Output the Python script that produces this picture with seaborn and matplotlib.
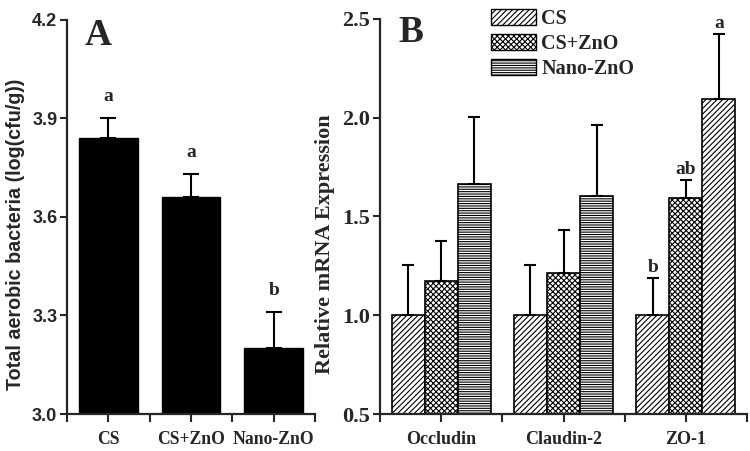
import pandas as pd
import numpy as np
import matplotlib
matplotlib.use("Agg")
import matplotlib.pyplot as plt
import matplotlib.patches as mpatches
from matplotlib.ticker import FixedLocator
import seaborn as sns

# Panel A data
groups = ["CS", "CS+ZnO", "Nano-ZnO"]
bacteria = [3.84, 3.66, 3.20]
bacteria_err = [0.06, 0.07, 0.11]
bacteria_sig = ["a", "a", "b"]

# Panel B data
genes = ["Occludin", "Claudin-2", "ZO-1"]
cs_expr = [1.00, 1.00, 1.00]
cs_zno_expr = [1.175, 1.215, 1.595]
nano_expr = [1.665, 1.605, 2.095]
cs_err = [0.255, 0.255, 0.19]
cs_zno_err = [0.20, 0.215, 0.09]
nano_err = [0.34, 0.36, 0.33]
zo1_sig = ["b", "ab", "a"]

sns.set_theme(style="ticks")
plt.rcParams["hatch.linewidth"] = 0.8
plt.rcParams["axes.linewidth"] = 1.6
serif = ["Liberation Serif", "DejaVu Serif"]
sans = ["Liberation Sans", "DejaVu Sans"]

fig = plt.figure(figsize=(7.5, 4.51), dpi=100)
axA = fig.add_axes([0.0893, 0.082, 0.3307, 0.874])
axB = fig.add_axes([0.5067, 0.082, 0.4893, 0.876])

# ---- Panel A
dfA = pd.DataFrame({"group": groups, "value": bacteria})
sns.barplot(data=dfA, x="group", y="value", color="black", width=0.71,
            edgecolor="black", errorbar=None, ax=axA, saturation=1)
axA.errorbar(range(3), bacteria, yerr=[[0, 0, 0], bacteria_err], fmt="none",
             ecolor="black", elinewidth=1.5, capsize=6, capthick=1.5)
for i, s in enumerate(bacteria_sig):
    axA.text(i, bacteria[i] + bacteria_err[i] + 0.04, s, ha="center", va="bottom",
             fontsize=14, fontweight="bold", family=serif)
axA.set_ylim(3.0, 4.2)
axA.set_xlim(-0.5, 2.5)
axA.set_yticks([3.0, 3.3, 3.6, 3.9, 4.2])
axA.set_yticklabels(["3.0", "3.3", "3.6", "3.9", "4.2"], fontsize=13,
                    fontweight="bold", family=sans)
axA.set_xticks(range(3))
axA.set_xticklabels(groups, fontsize=12.7, fontweight="bold", family=serif)
axA.xaxis.set_minor_locator(FixedLocator([-0.5, 0.5, 1.5, 2.5]))
axA.set_xlabel("")
axA.set_ylabel("Total aerobic bacteria (log(cfu/g))", fontsize=14.2,
               fontweight="bold", family=sans)
axA.yaxis.set_label_coords(-0.17, 0.455)
axA.text(0.07, 1.005, "A", transform=axA.transAxes, fontsize=27,
         fontweight="bold", family=serif, va="top")

# ---- Panel B
dfB = pd.DataFrame({
    "gene": genes * 3,
    "group": [g for g in groups for _ in genes],
    "value": cs_expr + cs_zno_expr + nano_expr,
})
sns.barplot(data=dfB, x="gene", y="value", hue="group", width=0.81,
            palette=["white"] * 3, edgecolor="black", linewidth=1.2,
            errorbar=None, ax=axB, saturation=1, legend=False)
hatches = ["//////", "xxxxxx", "-------"]
errs = [cs_err, cs_zno_err, nano_err]
vals = [cs_expr, cs_zno_expr, nano_expr]
bar_sets = list(axB.containers)
for k, cont in enumerate(bar_sets):
    xs = []
    for bar in cont:
        bar.set_hatch(hatches[k])
        xs.append(bar.get_x() + bar.get_width() / 2)
    axB.errorbar(xs, vals[k], yerr=[[0, 0, 0], errs[k]], fmt="none",
                 ecolor="black", elinewidth=1.5, capsize=4, capthick=1.5)
# ZO-1 Nano-ZnO bar is drawn with the diagonal hatch in the original
bar_sets[2][2].set_hatch("//////")
for k, s in enumerate(zo1_sig):
    bar = bar_sets[k][2]
    axB.text(bar.get_x() + bar.get_width() / 2, vals[k][2] + errs[k][2] + 0.01,
             s, ha="center", va="bottom", fontsize=14, fontweight="bold",
             family=serif)
axB.set_ylim(0.5, 2.5)
axB.set_xlim(-0.5, 2.5)
axB.set_yticks([0.5, 1.0, 1.5, 2.0, 2.5])
axB.set_yticklabels(["0.5", "1.0", "1.5", "2.0", "2.5"], fontsize=16,
                    fontweight="bold", family=serif)
axB.set_xticks(range(3))
axB.set_xticklabels(genes, fontsize=13, fontweight="bold", family=serif)
axB.xaxis.set_minor_locator(FixedLocator([-0.5, 0.5, 1.5, 2.5]))
axB.set_xlabel("")
axB.set_ylabel("Relative mRNA Expression", fontsize=16, fontweight="bold",
               family=serif)
axB.yaxis.set_label_coords(-0.122, 0.43)
axB.text(0.05, 1.01, "B", transform=axB.transAxes, fontsize=27,
         fontweight="bold", family=serif, va="top")

handles = [mpatches.Patch(facecolor="white", edgecolor="black", hatch=h, label=g)
           for h, g in zip(hatches, groups)]
axB.legend(handles=handles, loc="upper left", bbox_to_anchor=(0.28, 1.045),
           frameon=False, prop={"family": serif, "weight": "bold", "size": 14.5},
           handlelength=2.25, handleheight=0.85, handletextpad=0.25,
           labelspacing=0.25, borderaxespad=0)

for ax in (axA, axB):
    sns.despine(ax=ax)
    ax.tick_params(axis="y", which="major", direction="out", length=5,
                   width=1.5, pad=2)
    ax.tick_params(axis="x", which="both", direction="out", length=6,
                   width=1.5, pad=6)
    ax.tick_params(axis="x", which="minor", labelbottom=False)

fig.savefig("out.png", dpi=100)
